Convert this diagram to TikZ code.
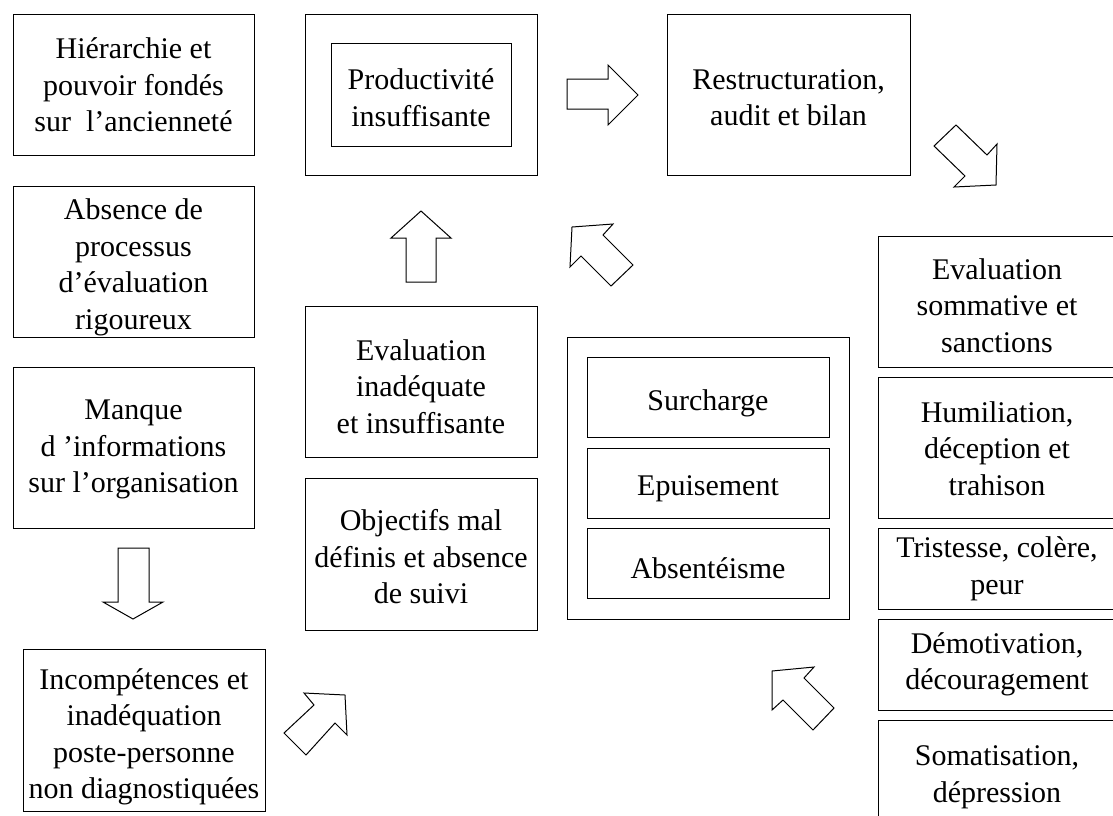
\documentclass[tikz,border=0pt]{standalone}
\usepackage{fontspec}
\setmainfont{Liberation Serif}
\begin{document}
\begin{tikzpicture}[x=1pt,y=-1pt,
  box/.style={draw, line width=1pt, inner sep=0pt, outer sep=0pt},
  sz/.style 2 args={minimum width=#1pt, minimum height=#2pt},
  txt/.style={inner sep=0pt, align=center, font=\fontsize{30}{36.5}\selectfont},
  blockarrow/.style={draw, line width=1pt, line join=miter, fill=white}]
\useasboundingbox (0,0) rectangle (1113,815);
\clip (0,0) rectangle (1113,815);

% left column: organisational causes
\node[box, sz={241}{141}] (hier) at (133.5,84.5) {};
\node[txt] (hier-t) at (133.5,85)
  {Hiérarchie et\\pouvoir fondés\\sur\ \ l’ancienneté};
\node[box, sz={241}{151}] (absence) at (133.5,261.5) {};
\node[txt] (absence-t) at (133.5,267.5)
  {Absence de\\processus\\d’évaluation\\rigoureux};
\node[box, sz={241}{161}] (manque) at (133.5,447.5) {};
\node[txt] (manque-t) at (133.5,449.5)
  {Manque\\d ’informations\\sur l’organisation};
\node[box, sz={242}{162}] (incomp) at (144,730) {};
\node[txt] (incomp-t) at (144,737)
  {Incompétences et\\inadéquation\\poste-personne\\non diagnostiquées};

% middle column
\node[box, sz={232}{161}] (prodout) at (421,94.5) {};
\node[box, sz={180}{103}] (prodin) at (421,94.5) {};
\node[txt] (prodin-t) at (421,97.5) {Productivité\\insuffisante};
\node[box, sz={232}{151}] (evalinad) at (421,381.5) {};
\node[txt] (evalinad-t) at (421,386.5)
  {Evaluation\\inadéquate\\et insuffisante};
\node[box, sz={232}{152}] (objectifs) at (421,554) {};
\node[txt] (objectifs-t) at (421,557)
  {Objectifs mal\\définis et absence\\de suivi};

% top right
\node[box, sz={243}{161}] (restr) at (788.5,94.5) {};
\node[txt] (restr-t) at (788.5,97.5) {Restructuration,\\audit et bilan};

% grouped consequences
\node[box, sz={282}{282}] (groupe) at (708,478) {};
\node[box, sz={242}{80}] (surcharge) at (708,397) {};
\node[txt] (surcharge-t) at (708,403) {Surcharge};
\node[box, sz={242}{70}] (epuis) at (708,483) {};
\node[txt] (epuis-t) at (708,489) {Epuisement};
\node[box, sz={242}{70}] (absent) at (708,563) {};
\node[txt] (absent-t) at (708,568) {Absentéisme};

% right column: effects on the person
\node[box, sz={238}{131}] (evalsom) at (997,301.5) {};
\node[txt] (evalsom-t) at (997,305.5) {Evaluation\\sommative et\\sanctions};
\node[box, sz={238}{141}] (humil) at (997,447.5) {};
\node[txt] (humil-t) at (997,448.5) {Humiliation,\\déception et\\trahison};
\node[box, sz={238}{81}] (trist) at (997,568.5) {};
\node[txt] (trist-t) at (997,568.5) {Tristesse, colère,\\peur};
\node[box, sz={238}{91}] (demot) at (997,664.5) {};
\node[txt] (demot-t) at (997,664.5) {Démotivation,\\découragement};
\node[box, sz={238}{110}] (somat) at (997,775) {};
\node[txt] (somat-t) at (997,777) {Somatisation,\\dépression};

% hollow block arrows
% down, under the left column
\draw[blockarrow] (118,548) -- (149,548) -- (149,602) -- (163,602) -- (133,619)
  -- (103,602) -- (118,602) -- cycle;
% up, towards the productivity box
\draw[blockarrow] (406,282) -- (436,282) -- (436,238) -- (451,238) -- (421,211)
  -- (391,238) -- (406,238) -- cycle;
% right, towards restructuring
\draw[blockarrow] (567,79) -- (608,79) -- (608,65) -- (638,95) -- (608,125)
  -- (608,109) -- (567,109) -- cycle;
% down-right, towards the right column
\draw[blockarrow] (956,125) -- (987,155) -- (997,144) -- (996,185) -- (954,187)
  -- (965,176) -- (934,146) -- cycle;
% up-left, towards the productivity box
\draw[blockarrow] (572,227) -- (613,224) -- (603,235) -- (633,265) -- (611,286)
  -- (581,256) -- (570,267) -- cycle;
% up-right, from the undiagnosed incompetence
\draw[blockarrow] (345,695) -- (347,735) -- (335,723) -- (306,755) -- (284,733)
  -- (314,705) -- (304,693) -- cycle;
% up-left, from the right column
\draw[blockarrow] (772,671) -- (814,667) -- (804,678) -- (834,708) -- (813,730)
  -- (783,700) -- (772,710) -- cycle;
\end{tikzpicture}
\end{document}
